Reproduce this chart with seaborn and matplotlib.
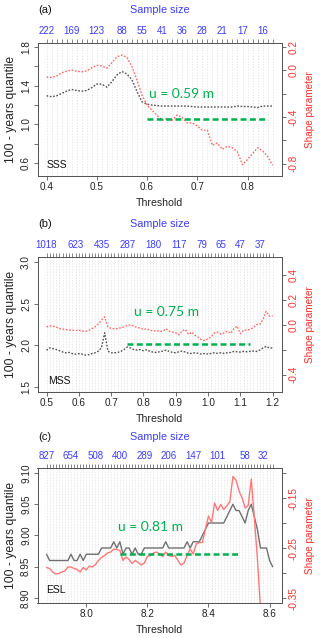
import numpy as np
import pandas as pd
import matplotlib
matplotlib.use("Agg")
import matplotlib.pyplot as plt
import seaborn as sns

sns.set_theme(style="white")
plt.rcParams["font.family"] = ["Liberation Sans", "DejaVu Sans"]
plt.rcParams["lines.scale_dashes"] = False

# ---------------- data ----------------
# (a) SSS
thr_a = np.round(np.arange(0.40, 0.8501, 0.01), 2)
quant_a = [1.296, 1.286, 1.296, 1.32, 1.344, 1.361, 1.35, 1.344, 1.35, 1.38,
           1.416, 1.416, 1.385, 1.44, 1.51, 1.546, 1.52, 1.46, 1.34, 1.235,
           1.21, 1.20, 1.195, 1.19, 1.19, 1.19, 1.19, 1.19, 1.19, 1.185,
           1.18, 1.18, 1.18, 1.18, 1.18, 1.18, 1.18, 1.18, 1.19, 1.185,
           1.185, 1.18, 1.175, 1.19, 1.19, 1.19]
shape_a = [-0.06, -0.063, -0.05, -0.023, -0.009, 0.0, -0.009, -0.014, -0.006, 0.02,
           0.04, 0.037, 0.017, 0.063, 0.114, 0.129, 0.109, 0.029, -0.086, -0.214,
           -0.30, -0.343, -0.386, -0.429, -0.414, -0.429, -0.383, -0.406, -0.451, -0.451,
           -0.477, -0.514, -0.514, -0.643, -0.623, -0.677, -0.651, -0.663, -0.70, -0.809,
           -0.763, -0.714, -0.663, -0.691, -0.737, -0.814]
ss_pos_a = [0.40, 0.45, 0.50, 0.55, 0.59, 0.63, 0.67, 0.71, 0.75, 0.79, 0.83]
ss_lab_a = ["222", "169", "123", "88", "55", "41", "36", "28", "21", "17", "16"]
u_line_a = [0.60, 0.84]
u_level_a = 1.06

# (b) MSS
thr_b = np.round(np.arange(0.50, 1.2001, 0.01), 2)
quant_b = [1.94, 1.97, 1.96, 1.95, 1.935, 1.92, 1.91, 1.915, 1.90, 1.895,
           1.90, 1.895, 1.883, 1.887, 1.90, 1.91, 1.93, 1.97, 2.15, 1.93,
           1.91, 1.91, 1.915, 1.927, 1.95, 1.98, 1.968, 1.95, 1.943, 1.95,
           1.935, 1.947, 1.927, 1.919, 1.915, 1.923, 1.931, 1.943, 1.927, 1.915,
           1.911, 1.923, 1.931, 1.919, 1.903, 1.903, 1.911, 1.903, 1.895, 1.903,
           1.895, 1.903, 1.911, 1.903, 1.911, 1.903, 1.911, 1.915, 1.927, 1.923,
           1.919, 1.927, 1.923, 1.927, 1.931, 1.927, 1.943, 1.968, 1.988, 1.968,
           1.968]
shape_b = [-0.019, -0.011, -0.013, -0.021, -0.032, -0.037, -0.040, -0.045, -0.045, -0.048,
           -0.045, -0.053, -0.056, -0.048, -0.034, -0.019, 0.005, 0.035, 0.061, -0.019,
           -0.032, -0.034, -0.034, -0.026, -0.019, -0.008, -0.003, -0.013, -0.024, -0.029,
           -0.040, -0.034, -0.045, -0.053, -0.048, -0.056, -0.053, -0.034, -0.053, -0.061,
           -0.066, -0.082, -0.050, -0.040, -0.079, -0.061, -0.087, -0.103, -0.124, -0.127,
           -0.114, -0.098, -0.066, -0.061, -0.077, -0.066, -0.053, -0.071, -0.034, -0.013,
           -0.074, -0.045, -0.045, -0.040, -0.026, 0.0, 0.0, 0.040, 0.106, 0.066,
           0.071]
ss_pos_b = [0.50, 0.59, 0.67, 0.75, 0.83, 0.91, 0.98, 1.04, 1.10, 1.16]
ss_lab_b = ["1018", "623", "435", "287", "180", "117", "79", "65", "47", "37"]
u_line_b = [0.75, 1.13]
u_level_b = 2.02

# (c) ESL
thr_c = np.round(np.arange(7.87, 8.6101, 0.01), 2)
quant_c = [8.97, 8.96, 8.96, 8.96, 8.96, 8.96, 8.96, 8.96, 8.97, 8.96,
           8.96, 8.97, 8.96, 8.97, 8.97, 8.97, 8.97, 8.97, 8.98, 8.98,
           8.98, 8.98, 8.99, 8.98, 8.99, 8.97, 8.98, 8.98, 8.97, 8.98,
           8.97, 8.97, 8.98, 8.98, 8.98, 8.98, 8.98, 8.98, 8.98, 8.99,
           8.98, 8.98, 8.98, 8.98, 8.98, 8.98, 8.99, 8.98, 8.99, 8.99,
           8.99, 9.00, 9.01, 9.02, 9.02, 9.02, 9.02, 9.02, 9.02, 9.03,
           9.04, 9.05, 9.04, 9.04, 9.03, 9.02, 9.04, 9.05, 9.03, 9.01,
           8.98, 8.98, 8.98, 8.96, 8.95]
shape_c = [-0.289, -0.291, -0.298, -0.302, -0.301, -0.298, -0.296, -0.288, -0.288, -0.291,
           -0.293, -0.298, -0.289, -0.294, -0.286, -0.288, -0.283, -0.275, -0.269, -0.265,
           -0.260, -0.258, -0.252, -0.253, -0.255, -0.275, -0.268, -0.273, -0.281, -0.275,
           -0.279, -0.284, -0.280, -0.267, -0.265, -0.260, -0.258, -0.262, -0.267, -0.258,
           -0.265, -0.267, -0.265, -0.275, -0.284, -0.280, -0.265, -0.252, -0.262, -0.242,
           -0.239, -0.239, -0.212, -0.186, -0.199, -0.160, -0.175, -0.163, -0.173, -0.166,
           -0.157, -0.107, -0.114, -0.136, -0.150, -0.170, -0.165, -0.112, -0.190, -0.270,
           -0.370, -0.500, -0.600, -0.650, -0.700]
ss_pos_c = [7.87, 7.95, 8.03, 8.11, 8.19, 8.27, 8.35, 8.43, 8.52, 8.58]
ss_lab_c = ["827", "654", "508", "400", "289", "206", "147", "101", "58", "32"]
u_line_c = [8.11, 8.50]
u_level_c = 8.97

# ---------------- figure ----------------
W, H = 320, 638
fig = plt.figure(figsize=(W / 100, H / 100), dpi=100)
fig.patch.set_facecolor("white")

BLUE = "#3c3cff"
RED = "#ff3030"
GREEN = "#00b050"
FRAME = "#555555"
L, R = 37.5, 281.7


def draw_panel(top, bottom, thr, quant, shape, solid, xlim, ylim_l, ylim_r,
               xticks, xtl, lticks, ltl, rticks, rtl, ss_pos, ss_lab,
               u_line, u_level, u_text, u_xy, tag, tag_xy, letter, head_y, xlab_y):
    ax = fig.add_axes([L / W, 1 - bottom / H, (R - L) / W, (bottom - top) / H])
    ax2 = ax.twinx()
    df = pd.DataFrame({"Threshold": thr, "quant": quant, "shape": shape})
    if solid:
        ls, gcol, rcol = "-", "#707070", "#ff7878"
    else:
        ls, gcol, rcol = (0, (1.2, 1.2)), "#505050", "#ff6868"
    sns.lineplot(data=df, x="Threshold", y="quant", ax=ax, color=gcol,
                 lw=1.0, linestyle=ls)
    sns.lineplot(data=df, x="Threshold", y="shape", ax=ax2, color=rcol,
                 lw=1.0, linestyle=ls)
    # threshold line (left-axis units) drawn on top
    ax2.plot(u_line, [u_level, u_level], transform=ax.transData, color=GREEN,
             lw=1.8, linestyle=(0, (4.3, 2.4)), zorder=5)
    ax2.text(u_xy[0], u_xy[1], u_text, transform=ax.transData, color=GREEN,
             fontsize=10, va="center", ha="left", family=["Lato", "DejaVu Sans"])
    ax.text(tag_xy[0], tag_xy[1], tag, fontsize=7.5, va="center", ha="left",
            color="#111111")

    ax.set_xlim(*xlim)
    ax.set_ylim(*ylim_l)
    ax2.set_ylim(*ylim_r)

    # vertical grid at every threshold
    ax.set_xticks(xticks)
    ax.set_xticklabels(xtl)
    ax.set_xticks(thr, minor=True)
    ax.grid(True, which="both", axis="x", color="#dedede", lw=0.5,
            linestyle=(0, (1, 1)))
    ax.grid(False, axis="y")
    ax.tick_params(axis="x", which="minor", length=0, bottom=False)
    ax.tick_params(axis="x", which="major", length=3, width=0.6, color=FRAME,
                   labelsize=7.2, pad=1, labelcolor="#222222", bottom=True)

    ax.set_yticks(lticks)
    ax.set_yticklabels(ltl, rotation=90, va="center")
    ax.tick_params(axis="y", length=3, width=0.6, color=FRAME, labelsize=7.2,
                   pad=1.6, labelcolor="#222222", left=True)
    ax2.set_yticks(rticks)
    ax2.set_yticklabels(rtl, rotation=90, va="center")
    ax2.tick_params(axis="y", length=3, width=0.6, color=FRAME, labelsize=7.2,
                    pad=2, labelcolor=RED, right=True)

    for a in (ax, ax2):
        for sp in a.spines.values():
            sp.set_color(FRAME)
            sp.set_linewidth(0.7)

    # top axis: sample size
    lab_map = {round(p, 2): s for p, s in zip(ss_pos, ss_lab)}
    sec = ax.secondary_xaxis("top")
    sec.set_xticks(thr)
    sec.set_xticklabels([lab_map.get(round(float(t), 2), "") for t in thr])
    sec.tick_params(axis="x", length=3.1, width=0.5, color=FRAME,
                    labelcolor=BLUE, labelsize=7, pad=2.2)
    sec.spines["top"].set_color(FRAME)
    sec.spines["top"].set_linewidth(0.7)

    h = bottom - top
    ax.set_xlabel("Threshold", fontsize=7.6, color="#222222", va="center")
    ax.xaxis.set_label_coords(0.5, -(xlab_y - bottom) / h)
    ax.set_ylabel("100 - years quantile", fontsize=8.7, color="#222222", va="center")
    ax.yaxis.set_label_coords((11.2 - L) / (R - L), 0.5)
    ax2.set_ylabel("Shape parameter", fontsize=7.2, color=RED, va="center",
                   rotation=90)
    ax2.yaxis.set_label_coords((309.7 - L) / (R - L), 0.5)

    fig.text((L + R) / 2 / W, 1 - head_y / H, "Sample size", color=BLUE,
             fontsize=7.8, ha="center", va="center")
    fig.text(45 / W, 1 - head_y / H, letter, color="#111111", fontsize=8,
             ha="center", va="center")


draw_panel(43, 176, thr_a, quant_a, shape_a, False,
           (0.382, 0.868), (0.469, 1.840), (-0.905, 0.232),
           [0.4, 0.5, 0.6, 0.7, 0.8], ["0.4", "0.5", "0.6", "0.7", "0.8"],
           [0.6, 0.8, 1.0, 1.2, 1.4, 1.6, 1.8], ["0.6", "", "1.0", "", "1.4", "", "1.8"],
           [-0.8, -0.6, -0.4, -0.2, 0.0, 0.2], ["-0.8", "", "-0.4", "", "0.0", "0.2"],
           ss_pos_a, ss_lab_a, u_line_a, u_level_a, "u = 0.59 m", (0.604, 1.313),
           "SSS", (0.40, 0.583), "(a)", 10, 203)

draw_panel(257, 392, thr_b, quant_b, shape_b, False,
           (0.472, 1.228), (1.44, 3.06), (-0.54, 0.54),
           [0.5, 0.6, 0.7, 0.8, 0.9, 1.0, 1.1, 1.2],
           ["0.5", "0.6", "0.7", "0.8", "0.9", "1.0", "1.1", "1.2"],
           [1.5, 2.0, 2.5, 3.0], ["1.5", "2.0", "2.5", "3.0"],
           [-0.4, -0.2, 0.0, 0.2, 0.4], ["-0.4", "", "0.0", "0.2", "0.4"],
           ss_pos_b, ss_lab_b, u_line_b, u_level_b, "u = 0.75 m", (0.77, 2.396),
           "MSS", (0.506, 1.570), "(b)", 224, 419)

draw_panel(468, 603, thr_c, quant_c, shape_c, True,
           (7.8404, 8.6396), (8.892, 9.108), (-0.36, -0.09),
           [8.0, 8.2, 8.4, 8.6], ["8.0", "8.2", "8.4", "8.6"],
           [8.90, 8.95, 9.00, 9.05, 9.10], ["8.90", "8.95", "9.00", "9.05", "9.10"],
           [-0.35, -0.30, -0.25, -0.20, -0.15, -0.10],
           ["-0.35", "", "-0.25", "", "-0.15", ""],
           ss_pos_c, ss_lab_c, u_line_c, u_level_c, "u = 0.81 m", (8.104, 9.014),
           "ESL", (7.869, 8.913), "(c)", 437, 630)

fig.savefig("out.png", dpi=100, facecolor="white")
